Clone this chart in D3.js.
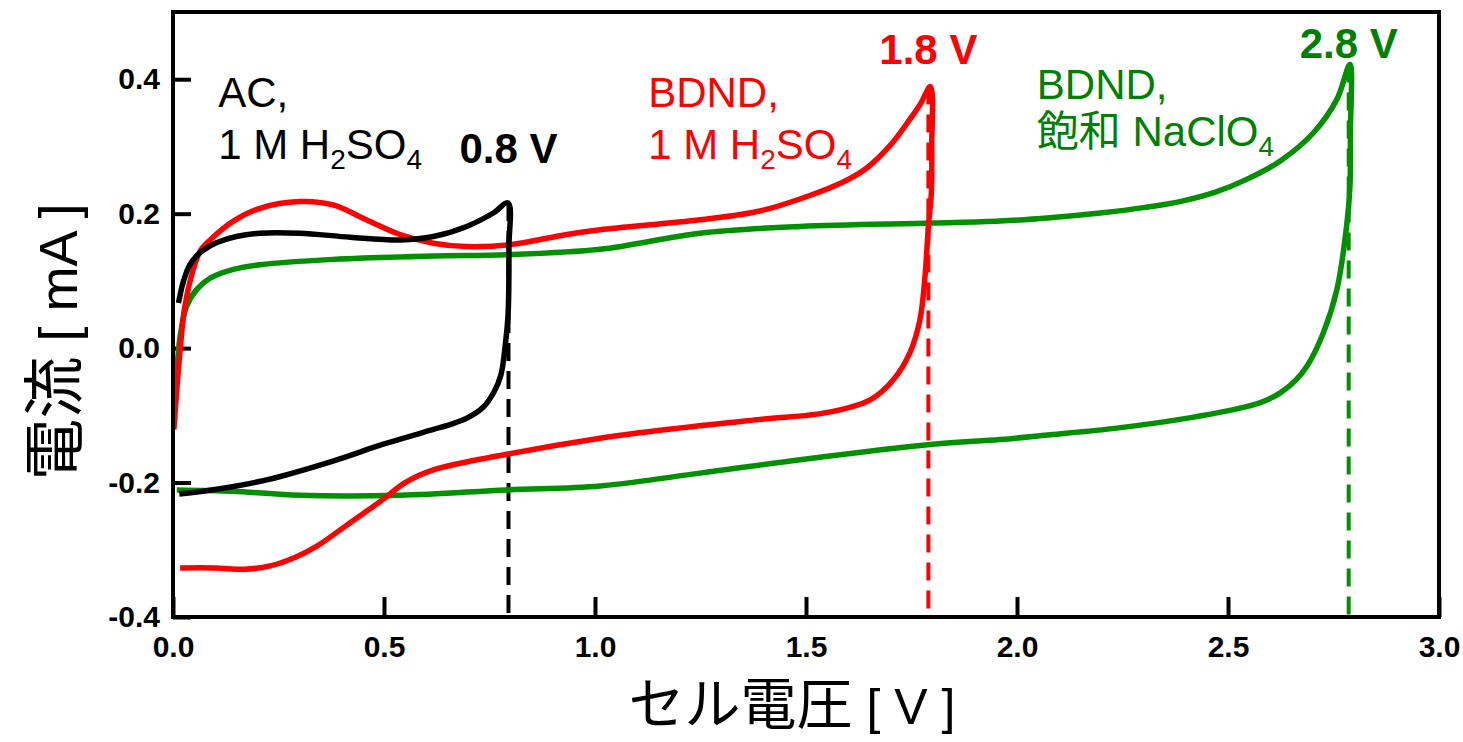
<!DOCTYPE html>
<html>
<head>
<meta charset="utf-8">
<script src="https://cdn.jsdelivr.net/npm/d3@7"></script>
<style>
  body { margin: 0; background: #fff; }
  text { font-family: "Liberation Sans", Arial, "Noto Sans CJK JP", sans-serif; }
</style>
</head>
<body>
<div id="chart"></div>
<script>
// ---- data: [cell voltage V, current mA] ----
var acCurve = [
  [0.013, 0.067], [0.025, 0.100], [0.040, 0.124], [0.064, 0.142], [0.088, 0.152],
  [0.104, 0.157], [0.150, 0.166], [0.206, 0.171], [0.300, 0.171], [0.420, 0.165],
  [0.540, 0.161], [0.617, 0.166], [0.696, 0.181], [0.759, 0.201], [0.794, 0.216],
  [0.796, 0.150], [0.794, 0.050], [0.788, 0.008], [0.777, -0.040], [0.760, -0.066],
  [0.735, -0.088], [0.700, -0.103], [0.660, -0.113], [0.617, -0.121], [0.498, -0.143],
  [0.379, -0.168], [0.222, -0.196], [0.104, -0.210], [0.015, -0.217]
];
var bdndH2so4Curve = [
  [0.002, -0.121], [0.009, -0.062], [0.017, -0.002], [0.028, 0.062], [0.048, 0.117],
  [0.065, 0.145], [0.088, 0.161], [0.143, 0.189], [0.206, 0.208], [0.300, 0.218],
  [0.379, 0.213], [0.458, 0.191], [0.538, 0.169], [0.617, 0.156], [0.696, 0.151],
  [0.800, 0.154], [0.933, 0.169], [1.012, 0.176], [1.249, 0.191], [1.391, 0.204],
  [1.509, 0.227], [1.588, 0.247], [1.644, 0.268], [1.700, 0.302], [1.740, 0.335],
  [1.770, 0.362], [1.795, 0.389], [1.798, 0.300], [1.797, 0.231], [1.790, 0.181],
  [1.782, 0.107], [1.770, 0.042], [1.746, -0.007], [1.707, -0.047], [1.652, -0.077],
  [1.549, -0.096], [1.391, -0.106], [1.170, -0.121], [1.012, -0.134], [0.790, -0.158],
  [0.617, -0.181], [0.550, -0.200], [0.498, -0.225], [0.419, -0.260], [0.340, -0.295],
  [0.290, -0.311], [0.230, -0.324], [0.170, -0.329], [0.100, -0.327], [0.017, -0.327]
];
var bdndNaclo4Curve = [
  [0.003, -0.110], [0.006, -0.062], [0.017, 0.018], [0.032, 0.062], [0.056, 0.087],
  [0.088, 0.104], [0.143, 0.117], [0.206, 0.124], [0.379, 0.132], [0.617, 0.137],
  [0.790, 0.139], [1.012, 0.147], [1.249, 0.171], [1.486, 0.181], [1.801, 0.186],
  [1.960, 0.189], [2.078, 0.194], [2.197, 0.201], [2.300, 0.209], [2.386, 0.218],
  [2.470, 0.232], [2.544, 0.251], [2.623, 0.278], [2.702, 0.320], [2.758, 0.370],
  [2.789, 0.422], [2.790, 0.320], [2.789, 0.241], [2.781, 0.181], [2.758, 0.087],
  [2.726, 0.023], [2.687, -0.027], [2.660, -0.048], [2.623, -0.067], [2.585, -0.079],
  [2.544, -0.087], [2.386, -0.106], [2.236, -0.119], [2.078, -0.129], [1.960, -0.136],
  [1.801, -0.143], [1.486, -0.166], [1.249, -0.186], [1.012, -0.205], [0.790, -0.211],
  [0.538, -0.219], [0.301, -0.219], [0.143, -0.213], [0.009, -0.211]
];
var seriesColors = ["#000000", "#ff0000", "#009000"];
var textColors = ["#000000", "#ff0000", "#008000"];
var vertexVoltages = [0.795, 1.79, 2.786];
var vertexCurrents = [0.216, 0.389, 0.422];
var vertexLabels = ["0.8 V", "1.8 V", "2.8 V"];
var xTicks = [0, 0.5, 1, 1.5, 2, 2.5, 3];
var yTicks = [-0.4, -0.2, 0, 0.2, 0.4];

// ---- setup ----
var width = 1463, height = 742;
var margin = { top: 12, right: 24, bottom: 125, left: 173 };
var innerW = width - margin.left - margin.right;   // 1266
var innerH = height - margin.top - margin.bottom;  // 605

var svg = d3.select("#chart").append("svg")
  .attr("width", width)
  .attr("height", height)
  .style("background", "#fff");
var g = svg.append("g").attr("transform", "translate(" + margin.left + "," + margin.top + ")");

var x = d3.scaleLinear().domain([0, 3]).range([0, innerW]);
var y = d3.scaleLinear().domain([-0.4, 0.5]).range([innerH, 0]);

// ---- axes (ticks point inward) ----
var fmt = function(d) { return d.toFixed(1); };

var xAxis = g.append("g")
  .attr("transform", "translate(0," + innerH + ")")
  .call(d3.axisBottom(x).tickValues(xTicks).tickFormat(fmt)
    .tickSizeInner(-20).tickSizeOuter(0).tickPadding(19));
var yAxis = g.append("g")
  .call(d3.axisLeft(y).tickValues(yTicks).tickFormat(fmt)
    .tickSizeInner(-18).tickSizeOuter(0).tickPadding(13));

[xAxis, yAxis].forEach(function(a) {
  a.select(".domain").remove();
  a.selectAll(".tick line").attr("stroke", "#000").attr("stroke-width", 4);
  a.selectAll(".tick text")
    .attr("fill", "#000")
    .style("font-size", "30px")
    .style("font-weight", "bold");
});

// ---- dashed vertex markers ----
g.selectAll(".vline")
  .data(vertexVoltages)
  .enter().append("line")
  .attr("class", "vline")
  .attr("x1", d => x(d)).attr("x2", d => x(d))
  .attr("y1", (d, i) => y(vertexCurrents[i]))
  .attr("y2", y(-0.4))
  .attr("stroke", (d, i) => seriesColors[i])
  .attr("stroke-width", 4)
  .attr("stroke-dasharray", "18,10");

// ---- curves ----
var line = d3.line()
  .x(d => x(d[0]))
  .y(d => y(d[1]))
  .curve(d3.curveCatmullRom.alpha(0.5));

var curves = [acCurve, bdndH2so4Curve, bdndNaclo4Curve];
// draw green first, black on top
[2, 1, 0].forEach(function(i) {
  g.append("path")
    .datum(curves[i])
    .attr("d", line)
    .attr("fill", "none")
    .attr("stroke", seriesColors[i])
    .attr("stroke-width", 5.5)
    .attr("stroke-linejoin", "round");
});

// ---- frame ----
g.append("rect")
  .attr("x", 0).attr("y", 0)
  .attr("width", innerW).attr("height", innerH)
  .attr("fill", "none")
  .attr("stroke", "#000")
  .attr("stroke-width", 4);

// ---- annotations ----
function formula(sel, parts) {
  // parts: [text, isSub]; subscripts are smaller and dropped
  var prevSub = false;
  parts.forEach(function(p) {
    var t = sel.append("tspan").text(p[0]);
    if (p[1]) t.style("font-size", "28px").attr("dy", 10);
    else if (prevSub) t.attr("dy", -10);
    prevSub = p[1];
  });
}

function labelBlock(v, i1, i2, color, line1, parts) {
  g.append("text")
    .attr("x", x(v)).attr("y", y(i1))
    .attr("fill", color)
    .style("font-size", "42px")
    .text(line1);
  var t = g.append("text")
    .attr("x", x(v)).attr("y", y(i2))
    .attr("fill", color)
    .style("font-size", "42px");
  formula(t, parts);
}

labelBlock(0.107, 0.358, 0.281, textColors[0], "AC,",
  [["1 M H", false], ["2", true], ["SO", false], ["4", true]]);
labelBlock(1.126, 0.359, 0.282, textColors[1], "BDND,",
  [["1 M H", false], ["2", true], ["SO", false], ["4", true]]);
labelBlock(2.047, 0.370, 0.300, textColors[2], "BDND,",
  [["飽和 NaClO", false], ["4", true]]);

var vLabelY = [0.276, 0.422, 0.432];
g.selectAll(".vlabel")
  .data(vertexLabels)
  .enter().append("text")
  .attr("class", "vlabel")
  .attr("x", (d, i) => x(vertexVoltages[i]))
  .attr("y", (d, i) => y(vLabelY[i]))
  .attr("text-anchor", "middle")
  .attr("fill", (d, i) => textColors[i])
  .style("font-size", "42px")
  .style("font-weight", "bold")
  .text(d => d);

// ---- axis titles ----
var xTitle = svg.append("text")
  .attr("x", 792).attr("y", 724)
  .attr("text-anchor", "middle")
  .attr("fill", "#000");
xTitle.append("tspan").style("font-family", "'Noto Sans CJK JP'").style("font-size", "56px").text("セル電圧");
xTitle.append("tspan").style("font-size", "50px").text(" [ V ]");

var yTitle = svg.append("text")
  .attr("transform", "translate(77,342) rotate(-90)")
  .attr("text-anchor", "middle")
  .attr("fill", "#000");
yTitle.append("tspan").style("font-family", "'Noto Sans CJK JP'").style("font-size", "62px").text("電流");
yTitle.append("tspan").style("font-size", "54px").text(" [ mA ]");
</script>
</body>
</html>
